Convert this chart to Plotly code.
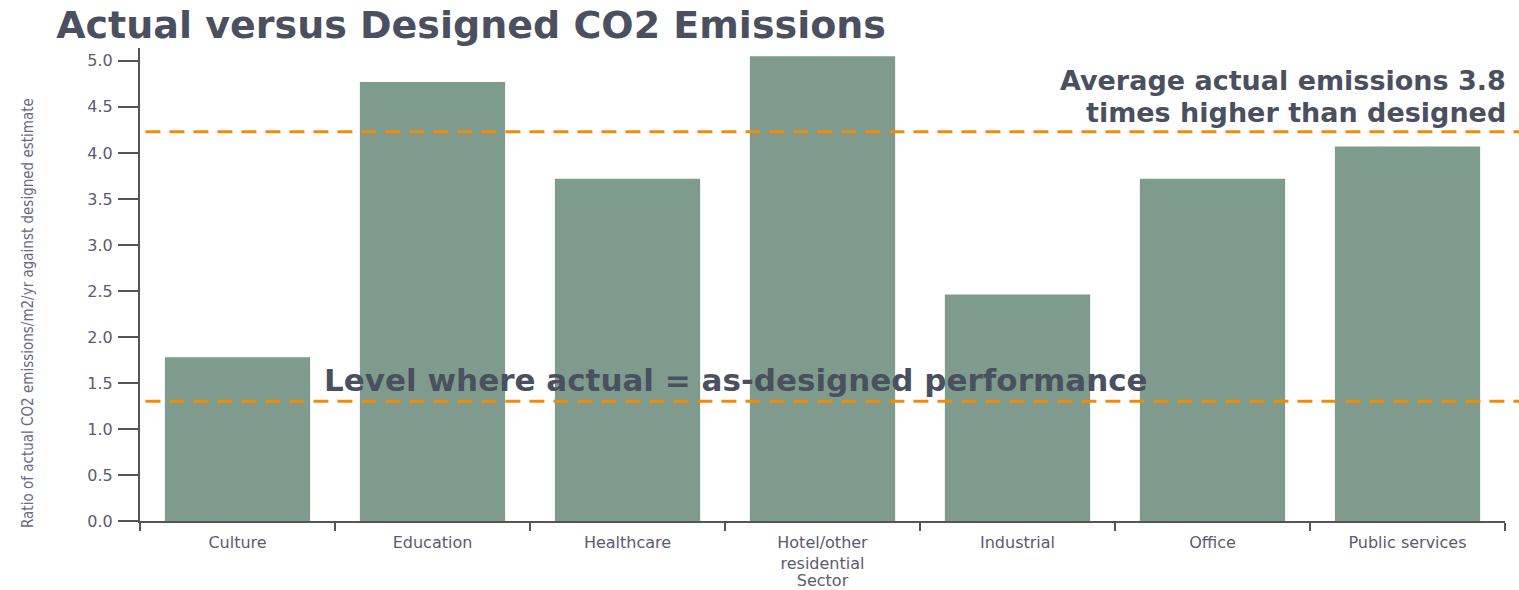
import plotly.graph_objects as go

# Sector ratios of actual to designed CO2 emissions per m2 per year
sectors = ["Culture", "Education", "Healthcare", "Hotel/other<br>residential",
           "Industrial", "Office", "Public services"]
ratios = [1.78, 4.77, 3.72, 5.05, 2.46, 3.72, 4.07]

# Reference levels drawn as dashed lines
average_level = 4.23
parity_level = 1.30

y_ticks = [0.0, 0.5, 1.0, 1.5, 2.0, 2.5, 3.0, 3.5, 4.0, 4.5, 5.0]

bar_color = "#7e9b8d"
line_color = "#f08c0a"
text_color = "#4b5060"
tick_color = "#5c5a70"
axis_color = "#555555"
bold_font = "DejaVu Sans"

fig = go.Figure()
fig.add_trace(go.Bar(x=sectors, y=ratios, marker=dict(color=bar_color, line=dict(width=0)),
                     hoverinfo="x+y"))

for level in (average_level, parity_level):
    fig.add_shape(type="line", xref="paper", yref="y", x0=0.004, x1=1.011,
                  y0=level, y1=level,
                  line=dict(color=line_color, width=3, dash="15px,9px"))

# Two-line note above the average line, each line placed on its own
fig.add_annotation(xref="paper", yref="y", x=1.002, y=4.79,
                   xanchor="right", yanchor="middle", showarrow=False,
                   text="Average actual emissions 3.8",
                   font=dict(family=bold_font, size=27, color=text_color, weight="bold"))
fig.add_annotation(xref="paper", yref="y", x=1.002, y=4.44,
                   xanchor="right", yanchor="middle", showarrow=False,
                   text="times higher than designed",
                   font=dict(family=bold_font, size=27, color=text_color, weight="bold"))

fig.add_annotation(xref="paper", yref="y", x=0.133, y=1.53,
                   xanchor="left", yanchor="middle", showarrow=False,
                   text="Level where actual = as-designed performance",
                   font=dict(family=bold_font, size=31, color=text_color, weight="bold"))

# Rotated y-axis caption
fig.add_annotation(xref="paper", yref="paper", x=-0.082, y=0.44,
                   xanchor="center", yanchor="middle", showarrow=False, textangle=-90,
                   text="Ratio of actual CO2 emissions/m2/yr against designed estimate",
                   font=dict(family="DejaVu Sans Condensed, Liberation Sans Narrow, DejaVu Sans",
                             size=15, color="#6a6888"))

fig.update_layout(
    width=1519, height=590,
    margin=dict(l=140, r=14, t=48, b=69, autoexpand=False),
    paper_bgcolor="white", plot_bgcolor="white",
    bargap=0.255,
    showlegend=False,
    title=dict(text="Actual versus Designed CO2 Emissions",
               x=0.037, xanchor="left", y=0.958, yanchor="middle",
               font=dict(family=bold_font, size=38, color=text_color, weight="bold")),
    xaxis=dict(
        automargin=False,
        showgrid=False, zeroline=False,
        showline=True, linecolor=axis_color, linewidth=2,
        ticks="outside", tickson="boundaries", ticklen=8, tickwidth=2, tickcolor=axis_color,
        ticklabelstandoff=6,
        tickfont=dict(family="DejaVu Sans", size=16, color=tick_color),
        title=dict(text="Sector", standoff=4,
                   font=dict(family="DejaVu Sans", size=16, color=tick_color)),
    ),
    yaxis=dict(
        automargin=False,
        range=[0, 5.14], tickvals=y_ticks, ticktext=[f"{v:.1f}" for v in y_ticks],
        showgrid=False, zeroline=False,
        showline=True, linecolor=axis_color, linewidth=2,
        ticks="outside", ticklen=20, tickwidth=2, tickcolor=axis_color,
        ticklabelstandoff=2,
        tickfont=dict(family="DejaVu Sans", size=16, color=tick_color),
    ),
)

fig.write_html("out.html")
